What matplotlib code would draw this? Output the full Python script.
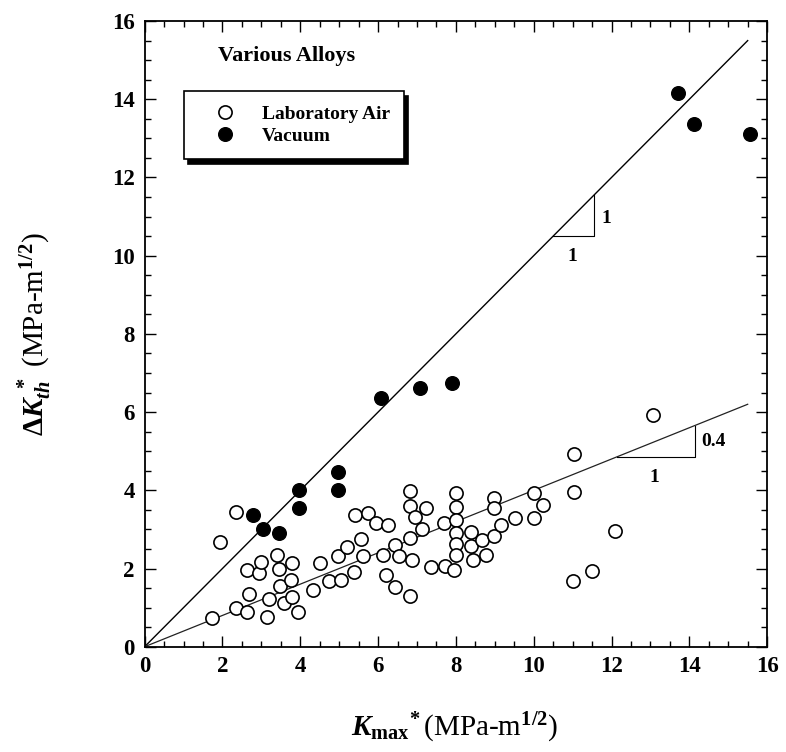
import matplotlib
matplotlib.use("Agg")
import matplotlib.pyplot as plt
from matplotlib.ticker import MultipleLocator

plt.rcParams['font.family'] = ['Liberation Serif', 'DejaVu Serif']
plt.rcParams['font.weight'] = 'bold'
plt.rcParams['mathtext.fontset'] = 'custom'
plt.rcParams['mathtext.rm'] = 'Liberation Serif:bold'
plt.rcParams['mathtext.it'] = 'Liberation Serif:italic:bold'
plt.rcParams['mathtext.bf'] = 'Liberation Serif:bold'

# laboratory air (open circles)
air_x = [1.73, 1.95, 2.34, 2.36, 2.63, 2.68, 2.63, 2.94, 2.98, 3.14, 3.2, 3.4, 3.46, 3.49,
         3.57, 3.75, 3.8, 3.8, 3.95, 4.34, 4.52, 4.73, 4.97, 5.04, 5.21, 5.39, 5.41, 5.57,
         5.62, 5.74, 5.95, 6.13, 6.2, 6.25, 6.43, 6.44, 6.55, 6.81, 6.81, 6.81, 6.86, 6.81,
         6.96, 7.13, 7.22, 7.35, 7.7, 7.71, 7.95, 8.0, 8.0, 8.0, 8.0, 8.0, 8.0, 8.38, 8.38,
         8.44, 8.66, 8.78, 8.99, 8.99, 8.99, 9.17, 9.53, 10.0, 10.02, 10.23, 11.04, 11.03,
         11.02, 11.5, 12.09, 13.06]
air_y = [0.73, 2.68, 1.0, 3.44, 0.88, 1.34, 1.95, 1.89, 2.17, 0.76, 1.22, 2.34, 1.98, 1.56,
         1.12, 1.71, 2.13, 1.27, 0.88, 1.46, 2.13, 1.68, 2.32, 1.71, 2.56, 1.91, 3.37, 2.76,
         2.32, 3.43, 3.16, 2.35, 1.84, 3.12, 1.53, 2.59, 2.32, 1.29, 3.97, 3.6, 2.21, 2.78,
         3.31, 3.0, 3.55, 2.03, 3.17, 2.06, 1.95, 3.93, 3.58, 3.25, 2.92, 2.62, 2.35, 2.94, 2.58,
         2.23, 2.73, 2.34, 2.83, 3.8, 3.55, 3.11, 3.29, 3.92, 3.29, 3.62, 4.93, 3.95,
         1.67, 1.93, 2.95, 5.93]

# vacuum (filled circles)
vac_x = [2.78, 3.04, 3.45, 3.98, 3.98, 4.98, 4.98, 6.08, 7.08, 7.9, 13.7, 14.11, 15.55]
vac_y = [3.38, 3.01, 2.9, 4.02, 3.54, 4.46, 4.0, 6.37, 6.61, 6.74, 14.15, 13.37, 13.1]

# fitted lines: slope 1 (vacuum) and slope 0.4 (air)
line_x = [0, 15.5]
slope_vac = 1.0
slope_air = 0.4

fig = plt.figure(figsize=(7.86, 7.52), dpi=100)
ax = fig.add_axes([0.184, 0.140, 0.792, 0.832])

ax.plot(line_x, [slope_vac * v for v in line_x], color='black', lw=1.0, zorder=2)
ax.plot(line_x, [slope_air * v for v in line_x], color='#222222', lw=0.9, zorder=2)

ax.plot(air_x, air_y, 'o', ms=9.5, mfc='white', mec='black', mew=1.2,
        label='Laboratory Air', zorder=3)
ax.plot(vac_x, vac_y, 'o', ms=9.8, mfc='black', mec='black', mew=1.0,
        label='Vacuum', zorder=3)

# slope triangles
x0, x1 = 10.5, 11.55
ax.plot([x0, x1, x1], [slope_vac * x0, slope_vac * x0, slope_vac * x1], color='black', lw=0.8)
ax.text(11.0, 10.2, '1', ha='center', va='top', fontsize=14)
ax.text(11.75, 10.95, '1', ha='left', va='center', fontsize=14)
x0, x1 = 12.15, 14.14
ax.plot([x0, x1, x1], [slope_air * x0, slope_air * x0, slope_air * x1], color='black', lw=0.8)
ax.text(13.1, 4.55, '1', ha='center', va='top', fontsize=14)
ax.text(14.3, 5.25, '0.4', ha='left', va='center', fontsize=14)

ax.text(1.88, 15.1, 'Various Alloys', ha='left', va='center', fontsize=16)

leg = ax.legend(loc='upper left', bbox_to_anchor=(1.0 / 16, 14.2 / 16),
                frameon=True, fancybox=False, fontsize=14, borderpad=0.7,
                handlelength=2.9, handletextpad=0.45, labelspacing=0.25,
                borderaxespad=0,
                shadow={'color': 'black', 'alpha': 1, 'ox': 3, 'oy': -3.5})
leg.get_frame().set_edgecolor('black')
leg.get_frame().set_linewidth(1.2)

ax.set_xlim(0, 16)
ax.set_ylim(0, 16)
ax.xaxis.set_major_locator(MultipleLocator(2))
ax.xaxis.set_minor_locator(MultipleLocator(0.5))
ax.yaxis.set_major_locator(MultipleLocator(2))
ax.yaxis.set_minor_locator(MultipleLocator(0.5))
ax.tick_params(which='both', direction='in', top=True, right=True, width=1.0)
ax.tick_params(which='major', length=8, labelsize=16.5, pad=7)
ax.tick_params(which='minor', length=4)
for s in ax.spines.values():
    s.set_linewidth(1.3)

ax.set_xlabel(r'${K_{\mathrm{max}}}^{\!*}$(MPa-m$^{1/2}$)', fontsize=21)
ax.set_ylabel(r'$\Delta K_{th}^{\ *}$ (MPa-m$^{1/2}$)', fontsize=21)
ax.xaxis.set_label_coords(0.498, -0.102)
ax.yaxis.set_label_coords(-0.145, 0.5)

fig.savefig("out.png", dpi=100)
